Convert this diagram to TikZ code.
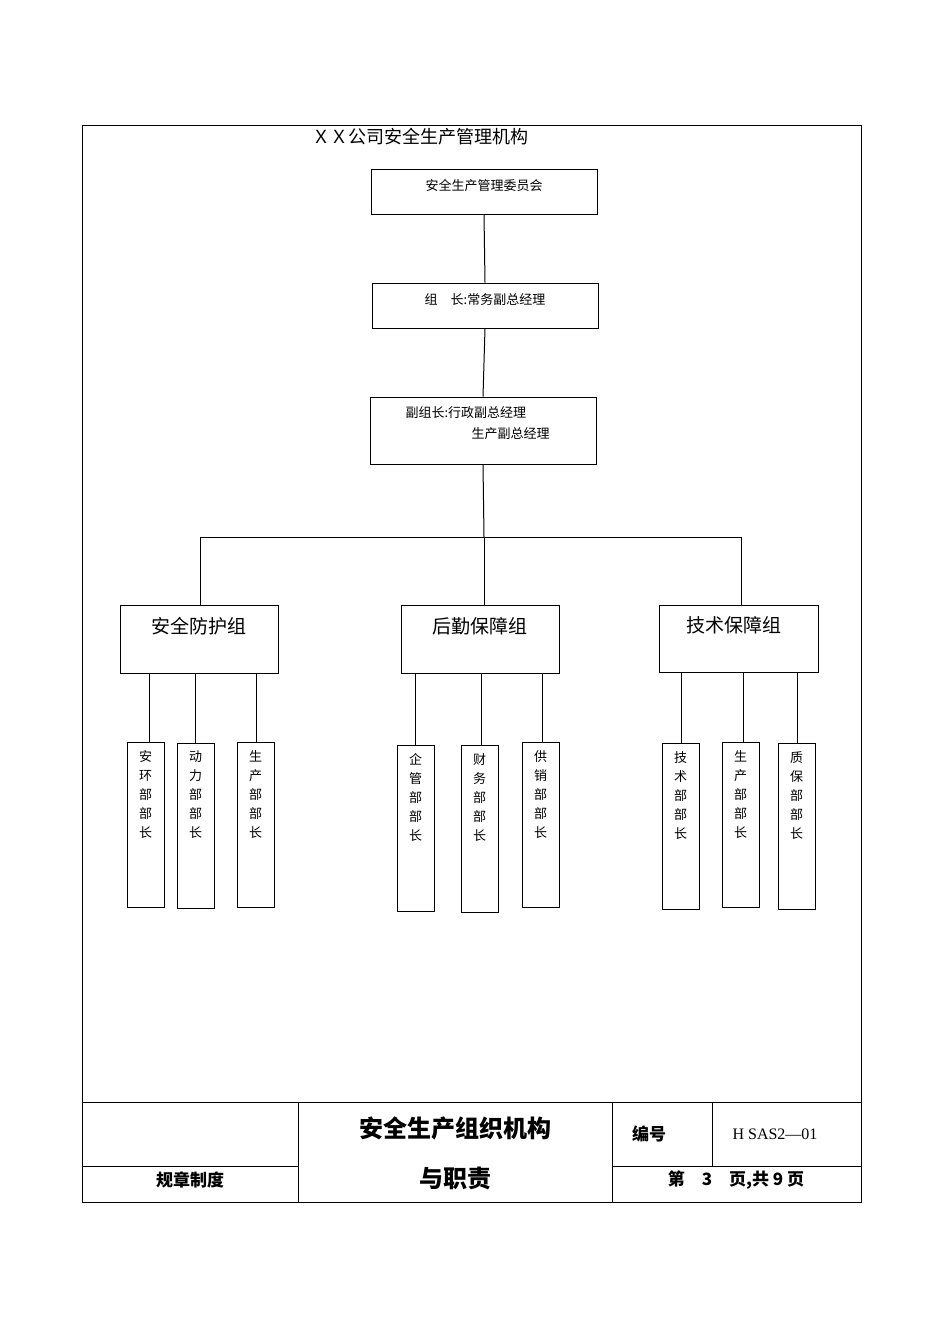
\documentclass[tikz,border=0pt]{standalone}
\usepackage{fontspec}
\setmainfont{Liberation Serif}
\newfontfamily\cjk{Noto Sans CJK SC}
\newfontfamily\cjkb{Noto Sans CJK SC}[BoldFont={* Bold}]
\begin{document}
\begin{tikzpicture}[x=1pt,y=-1pt,
  bx/.style={draw,line width=0.8pt},
  ln/.style={line width=1pt},
  sm/.style={font=\cjk\fontsize{13}{13}\selectfont},
  gp/.style={font=\cjk\fontsize{19}{19}\selectfont},
  vt/.style={font=\cjk\fontsize{13}{19}\selectfont,align=center,anchor=north,inner sep=0pt},
  ft/.style={font=\cjk\bfseries\fontsize{17}{17}\selectfont}]
\useasboundingbox (0,0) rectangle (950,1344);
\draw[line width=0.6pt] (82,125) rectangle (861,1202);
\node[font=\cjk\fontsize{18}{18}\selectfont] (title) at (420,137) {ＸＸ公司安全生产管理机构};
\node[bx,minimum width=226pt,minimum height=45pt] (b1) at (484,191.5) {};
\node[sm] at (484,186) {安全生产管理委员会};
\node[bx,minimum width=226pt,minimum height=45pt] (b2) at (485,305.5) {};
\node[sm] at (485,300) {组\quad 长:常务副总经理};
\node[bx,minimum width=226pt,minimum height=67pt] (b3) at (483,430.5) {};
\node[sm,anchor=west] at (402,413) {副组长:行政副总经理};
\node[sm,anchor=west] at (468,434) {生产副总经理};
\draw[ln] (b1.south) -- (b2.north);
\draw[ln] (b2.south) -- (b3.north);
\coordinate (j) at (484,537);
\draw[ln] (b3.south) -- (j);
\coordinate (jl) at (200,537);
\coordinate (jr) at (741,537);
\draw[ln] (jl) -- (jr);
\node[bx,minimum width=158pt,minimum height=68pt] (g1) at (199,639) {};
\node[bx,minimum width=158pt,minimum height=68pt] (g2) at (480,639) {};
\node[bx,minimum width=159pt,minimum height=67pt] (g3) at (738.5,638.5) {};
\node[gp] at (199,626) {安全防护组};
\node[gp] at (480,626) {后勤保障组};
\node[gp] at (734,625) {技术保障组};
\draw[ln] (jl) -- (jl|-g1.north);
\draw[ln] (j) -- (j|-g2.north);
\draw[ln] (jr) -- (jr|-g3.north);
\foreach \n/\l/\t/\b/\r/\lx/\txt in {
 s1/127/742/907/164/149/{安\\环\\部\\部\\长},
 s2/177/743/908/214/195/{动\\力\\部\\部\\长},
 s3/237/742/907/274/256/{生\\产\\部\\部\\长},
 s4/397/745/911/434/415/{企\\管\\部\\部\\长},
 s5/461/745/912/498/481/{财\\务\\部\\部\\长},
 s6/522/742/907/559/542/{供\\销\\部\\部\\长},
 s7/662/743/909/699/681/{技\\术\\部\\部\\长},
 s8/722/742/907/759/743/{生\\产\\部\\部\\长},
 s9/778/743/909/815/797/{质\\保\\部\\部\\长}}{
  \draw[bx] (\l,\t) rectangle (\r,\b);
  \node[vt] (\n) at ({(\l+\r)/2},\t+8) {\txt};
  \coordinate (\n t) at (\lx,673);
  \draw[ln] (\n t) -- (\lx,\t);
}
\draw[line width=0.6pt] (82,1102) -- (861,1102);
\draw[line width=0.6pt] (82,1166) -- (298,1166);
\draw[line width=0.6pt] (612,1166) -- (861,1166);
\draw[line width=0.6pt] (298,1102) -- (298,1202);
\draw[line width=0.6pt] (612,1102) -- (612,1202);
\draw[line width=0.6pt] (712,1102) -- (712,1166);
\node[font=\cjk\bfseries\fontsize{24}{24}\selectfont] (f1) at (455,1128) {安全生产组织机构};
\node[font=\cjk\bfseries\fontsize{24}{24}\selectfont] (f2) at (455,1178) {与职责};
\node[ft] (f3) at (649,1134) {编号};
\node[font=\fontsize{16}{16}\selectfont] (f4) at (775,1134) {H SAS2—01};
\node[ft] (f5) at (190,1180) {规章制度};
\node[ft] (f6) at (736,1180) {第\quad 3\quad 页,共 9 页};
\end{tikzpicture}
\end{document}
